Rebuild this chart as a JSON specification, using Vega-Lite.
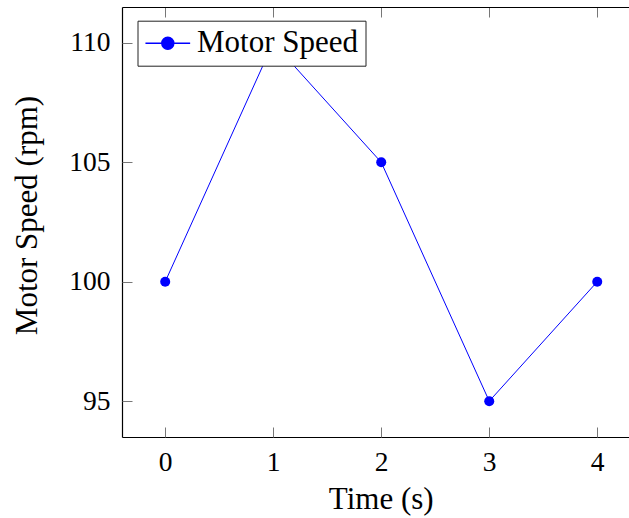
{
  "$schema": "https://vega.github.io/schema/vega-lite/v6.json",
  "width": 507,
  "height": 430,
  "autosize": {"type": "none"},
  "padding": {"left": 122, "top": 7, "right": 0, "bottom": 81},
  "background": "white",
  "config": {"view": {"stroke": null}, "font": "Liberation Serif"},
  "data": {
    "values": [
      {"t": 0, "speed": 100, "series": "Motor Speed"},
      {"t": 1, "speed": 110, "series": "Motor Speed"},
      {"t": 2, "speed": 105, "series": "Motor Speed"},
      {"t": 3, "speed": 95, "series": "Motor Speed"},
      {"t": 4, "speed": 100, "series": "Motor Speed"}
    ]
  },
  "layer": [
    {
      "mark": {"type": "line", "color": "#0000ff", "strokeWidth": 1, "clip": true},
      "encoding": {
        "x": {
          "field": "t", "type": "quantitative",
          "scale": {"domain": [-0.4, 4.294], "nice": false, "zero": false},
          "axis": {
            "orient": "bottom", "values": [0, 1, 2, 3, 4], "format": "d", "title": "Time (s)",
            "grid": false, "ticks": false, "domainColor": "black", "domainWidth": 1.2, "labelPadding": 11,
            "labelFont": "Liberation Serif", "labelFontSize": 27.5, "labelColor": "black",
            "labelFlush": false, "labelOverlap": false,
            "titleFont": "Liberation Serif", "titleFontSize": 31, "titleFontWeight": "normal", "titleColor": "black",
            "titleX": 258.7, "titleY": 71, "titleBaseline": "alphabetic", "titleAlign": "center"
          }
        },
        "y": {
          "field": "speed", "type": "quantitative",
          "scale": {"domain": [93.5, 111.5], "nice": false, "zero": false},
          "axis": {
            "orient": "left", "values": [95, 100, 105, 110], "format": "d", "title": "Motor Speed (rpm)",
            "grid": false, "ticks": false, "domainColor": "black", "domainWidth": 1.2, "labelPadding": 12,
            "labelFont": "Liberation Serif", "labelFontSize": 27.5, "labelColor": "black",
            "labelFlush": false, "labelOverlap": false,
            "titleFont": "Liberation Serif", "titleFontSize": 31, "titleFontWeight": "normal", "titleColor": "black",
            "titleX": -85.3, "titleY": 208, "titleBaseline": "alphabetic", "titleAlign": "center", "titleAngle": -90
          }
        }
      }
    },
    {
      "mark": {"type": "point", "filled": true, "size": 100, "opacity": 1},
      "encoding": {
        "x": {
          "field": "t", "type": "quantitative",
          "axis": {
            "orient": "top", "offset": -430, "values": [0, 1, 2, 3, 4], "labels": false, "title": null, "grid": false,
            "domain": false, "tickColor": "#777", "tickWidth": 1, "tickSize": 10
          }
        },
        "y": {
          "field": "speed", "type": "quantitative",
          "axis": {
            "orient": "right", "offset": -507, "values": [95, 100, 105, 110], "labels": false, "title": null, "grid": false,
            "domain": false, "tickColor": "#777", "tickWidth": 1, "tickSize": 10
          }
        },
        "color": {
          "field": "series", "type": "nominal",
          "scale": {"range": ["#0000ff"]},
          "legend": {
            "orient": "none", "legendX": 15.5, "legendY": 13.7, "title": null,
            "symbolType": "M-2.425,0H5.025M2.3,0A1,1,0,1,1,0.3,0A1,1,0,1,1,2.3,0",
            "symbolSize": 144, "symbolStrokeColor": "#0000ff", "symbolFillColor": "#0000ff",
            "labelOffset": 21.5, "labelExpr": "datum.label + '\u00a0\u00a0'", "labelLimit": 1000,
            "labelFont": "Liberation Serif", "labelFontSize": 31, "labelColor": "black",
            "padding": 7, "strokeColor": "#222", "fillColor": "white"
          }
        }
      }
    },
    {
      "mark": {"type": "point", "size": 0, "strokeOpacity": 0},
      "encoding": {
        "x": {
          "field": "t", "type": "quantitative",
          "axis": {
            "orient": "bottom", "offset": -430, "values": [0, 1, 2, 3, 4], "labels": false, "title": null, "grid": false,
            "domain": true, "domainColor": "black", "domainWidth": 1.2, "tickColor": "#777", "tickWidth": 1, "tickSize": 10
          }
        },
        "y": {"field": "speed", "type": "quantitative", "axis": null}
      }
    }
  ],
  "resolve": {"axis": {"x": "independent", "y": "independent"}}
}
